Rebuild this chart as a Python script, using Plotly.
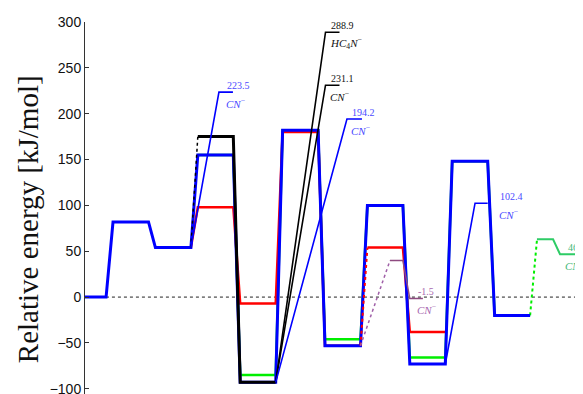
import plotly.graph_objects as go

# ---------------- data ----------------
HW = 0.4185  # half width of an energy level (in stage units)

# main pathway (blue), levels at stages 0..10
blue_stages = [0, 1, 2, 3, 4, 5, 6, 7, 8, 9, 10]
blue_energy = [0, 82, 54, 155, -93, 182, -53, 100, -73, 148, -20]

# red pathway (solid part stages 2..6, dashed rise 6->7, solid 7..8)
red_stages_a = [2, 3, 4, 5, 6]
red_energy_a = [54, 98, -7, 180, -53]
red_stages_b = [7, 8]
red_energy_b = [54, -38]

# green pathway
green_stages = [3, 4, 5, 6, 7, 8, 9, 10]
green_energy = [155, -85, 182, -46, 100, -66, 148, -20]
green_final_energy = 63  # stage 11

# black pathway (dashed rise 2->3, solid 3..4)
black_stages = [3, 4]
black_energy = [175, -93]
black_start_energy = 54  # stage 2

# product channels
branch_from_stage = [2, 4, 4, 4, 8]
branch_from_energy = [54, -93, -93, -93, -73]
branch_corner_x = [3.08, 5.593, 5.593, 6.099, 9.12]
branch_end_x = [3.41, 5.923, 5.923, 6.453, 9.4185]
branch_energy = [223.5, 288.9, 231.1, 194.2, 102.4]
branch_color = ["#0000ff", "#000000", "#000000", "#0000ff", "#0000ff"]
branch_label_x = [3.22, 5.675, 5.675, 6.17, 9.655]
branch_label_color = ["#4a4aff", "#111111", "#111111", "#4a4aff", "#4a4aff"]
branch_species = ["<i>CN</i><sup>−</sup>", "<i>HC</i><sub>4</sub><i>N</i><sup>−</sup>",
                  "<i>CN</i><sup>−</sup>", "<i>CN</i><sup>−</sup>", "<i>CN</i><sup>−</sup>"]

# purple channel
purple_from = (6.4185, -53)
purple_mid_energy = 40
purple_mid_x = [7.115, 7.4185]
purple_end_energy = -1.5
purple_end_x = [7.58, 7.89]
purple_label_x = 7.727

# green final channel
gfinal_x = [10.58, 10.96, 11.124, 11.478]
gfinal_energy = [63, 63, 46.8, 46.8]
gfinal_label_x = 11.265

y_ticks = [-100, -50, 0, 50, 100, 150, 200, 250, 300]


def level_path(stages, energies):
    xs, ys = [], []
    for s, e in zip(stages, energies):
        xs += [s - HW, s + HW]
        ys += [e, e]
    return xs, ys


fig = go.Figure()

# zero reference line
fig.add_trace(go.Scatter(x=[-1, 12], y=[0, 0], mode="lines",
                         line=dict(color="#222222", width=1, dash="3px,3px"), hoverinfo="skip"))

# green pathway (underneath)
gx, gy = level_path(green_stages, green_energy)
fig.add_trace(go.Scatter(x=gx, y=gy, mode="lines", line=dict(color="#00ee00", width=2.5)))
fig.add_trace(go.Scatter(x=[10 + HW, 11 - HW], y=[green_energy[-1], green_final_energy], mode="lines",
                         line=dict(color="#00ee00", width=2, dash="3px,3px")))

# red pathway
rx, ry = level_path(red_stages_a, red_energy_a)
fig.add_trace(go.Scatter(x=rx, y=ry, mode="lines", line=dict(color="#ff0000", width=2.5)))
rx2, ry2 = level_path(red_stages_b, red_energy_b)
fig.add_trace(go.Scatter(x=rx2, y=ry2, mode="lines", line=dict(color="#ff0000", width=2.5)))

# blue main pathway
bx, by = level_path(blue_stages, blue_energy)
fig.add_trace(go.Scatter(x=bx, y=by, mode="lines", line=dict(color="#0000ff", width=3)))

# red dashed rise
fig.add_trace(go.Scatter(x=[6 + HW, 7 - HW], y=[red_energy_a[-1], red_energy_b[0]], mode="lines",
                         line=dict(color="#ff0000", width=2, dash="3px,3px")))

# purple channel
fig.add_trace(go.Scatter(x=[purple_from[0], purple_mid_x[0]], y=[purple_from[1], purple_mid_energy],
                         mode="lines", line=dict(color="#a060a8", width=1.5, dash="3px,3px")))
fig.add_trace(go.Scatter(x=[purple_mid_x[0], purple_mid_x[1], purple_end_x[0], purple_end_x[1]],
                         y=[purple_mid_energy, purple_mid_energy, purple_end_energy, purple_end_energy],
                         mode="lines", line=dict(color="#8e4a80", width=1.5)))

# black pathway
kx, ky = level_path(black_stages, black_energy)
fig.add_trace(go.Scatter(x=[2 + HW, 3 - HW], y=[black_start_energy, black_energy[0]], mode="lines",
                         line=dict(color="#000000", width=1.5, dash="3px,3px")))
fig.add_trace(go.Scatter(x=kx, y=ky, mode="lines", line=dict(color="#000000", width=3)))

# branches
for i in range(len(branch_energy)):
    fig.add_trace(go.Scatter(
        x=[branch_from_stage[i] + HW, branch_corner_x[i], branch_end_x[i]],
        y=[branch_from_energy[i], branch_energy[i], branch_energy[i]],
        mode="lines", line=dict(color=branch_color[i], width=1.6)))

# green final channel
fig.add_trace(go.Scatter(x=gfinal_x, y=gfinal_energy, mode="lines",
                         line=dict(color="#2ecc66", width=2)))

annotations = []
lab_font = "Liberation Serif, DejaVu Serif, serif"


def add_label(x, y, val, species, color, sx=0):
    annotations.append(dict(x=x, y=y, text=val, showarrow=False, xanchor="left", yanchor="middle",
                            yshift=7, font=dict(family=lab_font, size=10, color=color)))
    annotations.append(dict(x=x, y=y, text=species, showarrow=False, xanchor="left", yanchor="middle",
                            yshift=-11, xshift=sx, font=dict(family=lab_font, size=11, color=color)))


for i in range(len(branch_energy)):
    add_label(branch_label_x[i], branch_energy[i], f"{branch_energy[i]:.1f}", branch_species[i],
              branch_label_color[i], sx=-1)
add_label(purple_label_x, purple_end_energy, "-1.5", "<i>CN</i><sup>−</sup>", "#a868b0", sx=-1)
add_label(gfinal_label_x, gfinal_energy[-1], "46.8", "<i>CN</i><sup>−</sup>", "#44b878", sx=-3)

annotations.append(dict(xref="paper", yref="paper", x=0, y=0.47, xshift=-57,
                        text="Relative energy [kJ/mol]", textangle=-90, showarrow=False,
                        xanchor="center", yanchor="middle",
                        font=dict(family=lab_font, size=29, color="#111111")))

# page body has an 8px margin, so the figure starts 8px in from the top-left corner
fig.update_layout(
    width=575, height=400,
    margin=dict(l=77, r=0, t=14, b=14, autoexpand=False),
    paper_bgcolor="white", plot_bgcolor="white",
    showlegend=False,
    annotations=annotations,
    xaxis=dict(visible=False, range=[-0.079, 11.666], automargin=False),
    yaxis=dict(range=[-105.7, 300], tickvals=y_ticks, showgrid=False, zeroline=False,
               automargin=False,
               showline=True, linecolor="#333333", linewidth=1,
               ticks="inside", ticklen=4, tickcolor="#333333",
               tickfont=dict(family="Liberation Sans, Arial, sans-serif", size=14, color="#111111")),
)

fig.write_html("out.html")
